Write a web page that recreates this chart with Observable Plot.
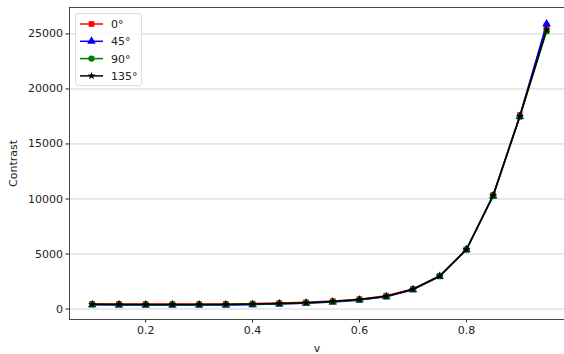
<!DOCTYPE html>
<html><head><meta charset="utf-8">
<script src="https://cdn.jsdelivr.net/npm/d3@7"></script>
<script src="https://cdn.jsdelivr.net/npm/@observablehq/plot@0.6"></script>
<style>
body{margin:0;background:#fff;font-family:"DejaVu Sans",sans-serif;}
#wrap{position:relative;width:564px;height:354px;}
#legend{position:absolute;left:75px;top:13px;width:67px;height:73px;box-sizing:border-box;border:1px solid #ddd;border-radius:3px;background:rgba(255,255,255,0.8);}
</style>
</head><body>
<div id="wrap"><div id="chart"></div><div id="legend"></div></div>
<script>
const v = [0.1,0.15,0.2,0.25,0.3,0.35,0.4,0.45,0.5,0.55,0.6,0.65,0.7,0.75,0.8,0.85,0.9,0.95];
const c0   = [470,460,450,450,450,460,490,540,610,720,900,1200,1820,3020,5430,10360,17620,25770];
const c45  = [380,370,360,360,360,370,400,450,520,630,810,1120,1760,2960,5380,10280,17500,25900];
const c90  = [420,410,400,400,400,410,440,490,560,670,850,1150,1790,2990,5400,10300,17480,25250];
const c135 = [430,420,410,410,410,420,450,500,570,680,860,1160,1800,3000,5410,10310,17520,25380];
const seriesNames = ["0°","45°","90°","135°"];
const seriesColors = ["#ff0000","#0000ff","#008000","#000000"];
const seriesSymbols = ["square","triangle","circle","star"];
const yTicks = [0,5000,10000,15000,20000,25000];
const xTicks = [0.2,0.4,0.6,0.8];

const allSeries = [c0,c45,c90,c135];
const marks = [
  Plot.ruleY(yTicks,{stroke:"#b0b0b0",strokeWidth:0.8,strokeOpacity:0.7}),
];
allSeries.forEach((s,i)=>{
  const data = v.map((x,j)=>({v:x,c:s[j]}));
  marks.push(Plot.line(data,{x:"v",y:"c",stroke:seriesColors[i],strokeWidth:1.5}));
  marks.push(Plot.dot(data,{x:"v",y:"c",fill:seriesColors[i],stroke:"none",symbol:()=>seriesSymbols[i],r:seriesSymbols[i]==="star"?2.6:3.2}));
});
marks.push(Plot.axisX({ticks:xTicks,tickFormat:d=>d.toFixed(1),tickSize:3.5,tickPadding:3,label:"v",labelAnchor:"center",labelArrow:"none",labelOffset:32,fontSize:11}));
marks.push(Plot.axisY({ticks:yTicks,tickFormat:d=>String(d),tickSize:3.5,tickPadding:3,label:"Contrast",labelAnchor:"center",labelArrow:"none",labelOffset:60,fontSize:11}));
marks.push(Plot.frame({stroke:"#333",strokeWidth:0.9}));

const chart = Plot.plot({
  width:564,height:354,
  marginLeft:69,marginRight:0,marginTop:7,marginBottom:35,
  style:{fontFamily:"DejaVu Sans",fontSize:"11px",color:"#222",background:"#fff"},
  x:{domain:[0.0575,0.9835]},
  y:{domain:[-950,27400]},
  marks
});
document.getElementById("chart").appendChild(chart);

// legend
const lg = d3.select("#legend").append("svg").attr("width",67).attr("height",73);
seriesNames.forEach((n,i)=>{
  const y = 10 + i*17.3;
  lg.append("line").attr("x1",4).attr("x2",27).attr("y1",y).attr("y2",y).attr("stroke",seriesColors[i]).attr("stroke-width",1.5);
  const sym = {square:d3.symbolSquare,triangle:d3.symbolTriangle,circle:d3.symbolCircle,star:d3.symbolStar}[seriesSymbols[i]];
  lg.append("path").attr("d",d3.symbol(sym,seriesSymbols[i]==="star"?20:32)()).attr("transform",`translate(15.5,${y})`).attr("fill",seriesColors[i]);
  lg.append("text").attr("x",35).attr("y",y+4).attr("font-size","11px").attr("fill","#222").attr("font-family","DejaVu Sans").text(n);
});
</script>
</body></html>
